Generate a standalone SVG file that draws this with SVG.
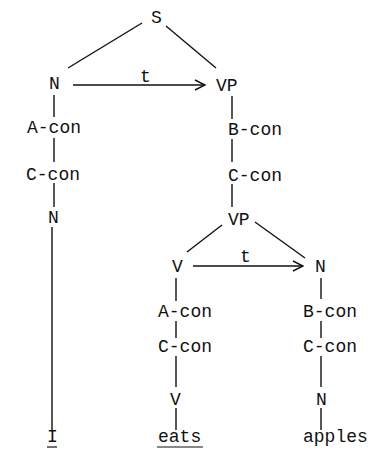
<svg xmlns="http://www.w3.org/2000/svg" width="371" height="455" viewBox="0 0 371 455">
<style>
text{font-family:"Liberation Mono","DejaVu Sans Mono",monospace;font-size:18px;fill:#111}
.e{stroke:#111;stroke-width:1.4;fill:none}
.u{stroke:#111;stroke-width:1.2}
</style>
<defs>
<marker id="ah" viewBox="0 0 12 12" refX="11" refY="6" markerWidth="12" markerHeight="12" markerUnits="userSpaceOnUse" orient="auto">
<path d="M1,1 L11,6 L1,11" fill="none" stroke="#111" stroke-width="1.4"/>
</marker>
</defs>
<rect width="371" height="455" fill="#fff"/>
<g id="connectors">
<line class="e" x1="142" y1="23" x2="68" y2="68"/>
<line class="e" x1="166" y1="26" x2="216" y2="68"/>
<line class="e" x1="73" y1="85" x2="205" y2="85" marker-end="url(#ah)"/>
<line class="e" x1="54" y1="95" x2="54" y2="117"/>
<line class="e" x1="54" y1="138" x2="54" y2="162"/>
<line class="e" x1="54" y1="183" x2="54" y2="207"/>
<line class="e" x1="52" y1="227" x2="52" y2="430"/>
<line class="e" x1="232" y1="96" x2="232" y2="119"/>
<line class="e" x1="232" y1="139" x2="232" y2="162"/>
<line class="e" x1="232" y1="184" x2="232" y2="207"/>
<line class="e" x1="222" y1="225" x2="187" y2="252"/>
<line class="e" x1="255" y1="222" x2="305" y2="258"/>
<line class="e" x1="193" y1="266" x2="303" y2="266" marker-end="url(#ah)"/>
<line class="e" x1="176" y1="278" x2="176" y2="301"/>
<line class="e" x1="176" y1="321" x2="176" y2="338"/>
<line class="e" x1="176" y1="356" x2="176" y2="387"/>
<line class="e" x1="176" y1="408" x2="176" y2="430"/>
<line class="e" x1="321" y1="278" x2="321" y2="299"/>
<line class="e" x1="321" y1="321" x2="321" y2="338"/>
<line class="e" x1="321" y1="356" x2="321" y2="387"/>
<line class="e" x1="321" y1="408" x2="321" y2="430"/>
</g>
<g id="t1"><text x="140" y="82">t</text></g>
<g id="t2"><text x="240" y="262">t</text></g>
<g id="S"><text x="151" y="23">S</text></g>
<g id="N1"><text x="49" y="89">N</text></g>
<g id="Acon1"><text x="27" y="133">A-con</text></g>
<g id="Ccon1"><text x="26" y="180">C-con</text></g>
<g id="N2"><text x="48" y="223">N</text></g>
<g id="I"><text x="47" y="442">I</text><line class="u" x1="47" y1="447" x2="57" y2="447"/></g>
<g id="VP1"><text x="216" y="91">VP</text></g>
<g id="Bcon1"><text x="228" y="135">B-con</text></g>
<g id="Ccon2"><text x="228" y="181">C-con</text></g>
<g id="VP2"><text x="228" y="225">VP</text></g>
<g id="V1"><text x="172" y="272">V</text></g>
<g id="Acon2"><text x="158" y="317">A-con</text></g>
<g id="Ccon3"><text x="158" y="352">C-con</text></g>
<g id="V2"><text x="170" y="405">V</text></g>
<g id="eats"><text x="158" y="442">eats</text><line class="u" x1="157" y1="447" x2="203" y2="447"/></g>
<g id="N3"><text x="315" y="272">N</text></g>
<g id="Bcon2"><text x="303" y="317">B-con</text></g>
<g id="Ccon4"><text x="303" y="352">C-con</text></g>
<g id="N4"><text x="316" y="405">N</text></g>
<g id="apples"><text x="303" y="442">apples</text></g>
</svg>
